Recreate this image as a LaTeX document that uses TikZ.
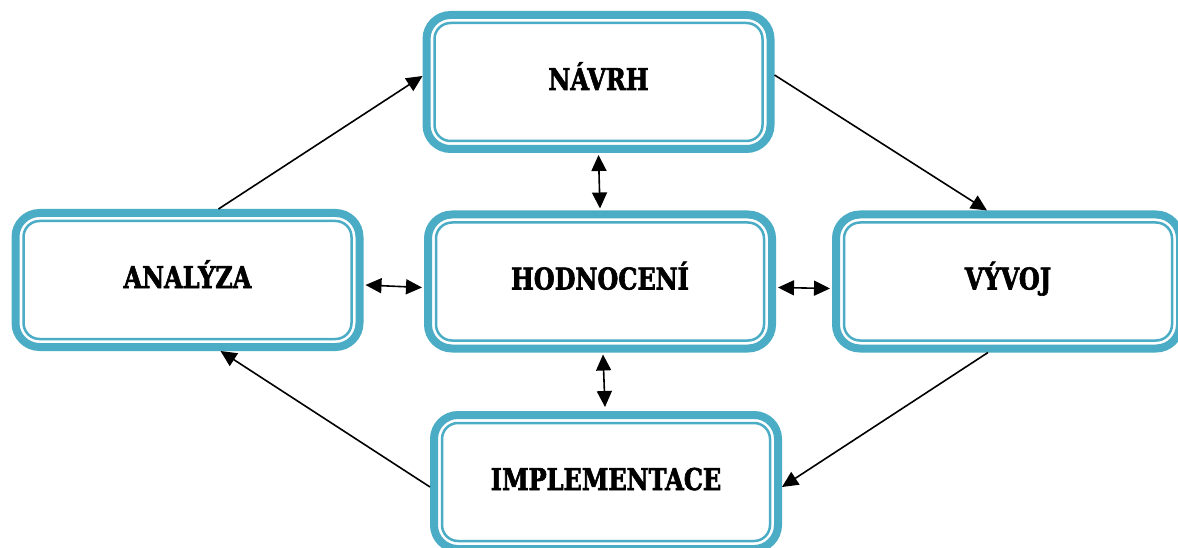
\documentclass[tikz,border=0pt]{standalone}
\usepackage{fontspec}
\newfontfamily\boxfont{DejaVu Serif}[FakeStretch=0.8,FakeBold=2]
\usetikzlibrary{arrows.meta,calc}
\definecolor{tealbox}{HTML}{4BACC6}
\begin{document}
\begin{tikzpicture}[x=1pt,y=-1pt,
  stagebox/.style={draw=tealbox, line width=8pt, rounded corners=24pt,
    minimum width=344pt, minimum height=134pt, fill=white,
    font=\boxfont\bfseries\fontsize{30}{30}\selectfont, inner sep=0pt,
    text height=22pt, text depth=6pt},
  innerline/.style={draw=tealbox, line width=2.5pt, rounded corners=16pt},
  arr/.style={line width=1.6pt, -{Triangle[length=16pt,width=15pt]}},
  darr/.style={line width=1.6pt, {Triangle[length=16pt,width=15pt]}-{Triangle[length=16pt,width=15pt]}}]
\useasboundingbox (0,0) rectangle (1178,548);
\node[stagebox] (n) at (598.5,82) {NÁVRH};
\node[stagebox] (a) at (187.5,280) {ANALÝZA};
\node[stagebox] (h) at (600,281.5) {HODNOCENÍ};
\node[stagebox] (v) at (1008,281.5) {VÝVOJ};
\node[stagebox] (i) at (606,482) {IMPLEMENTACE};
\foreach \b in {n,a,h,v,i}{
  \draw[innerline] ([shift={(12pt,-12pt)}]\b.north west) rectangle ([shift={(-12pt,12pt)}]\b.south east);
}
\draw[arr] ([xshift=31pt]a.north) -- ([yshift=6pt]n.west);
\draw[arr] ([yshift=7pt]n.east) -- ([xshift=-21pt]v.north);
\draw[arr] ([xshift=-20pt]v.south) -- ([yshift=-5pt]i.east);
\draw[arr] ([yshift=-5pt]i.west) -- ([xshift=33pt]a.south);
\draw[darr] ([yshift=-2pt]n.south) -- ([yshift=2pt]h.north);
\draw[darr] ([xshift=2pt,yshift=-5pt]a.east) -- ([xshift=-2pt,yshift=-6pt]h.west);
\draw[darr] ([xshift=2pt,yshift=-6pt]h.east) -- ([xshift=-2pt,yshift=-7pt]v.west);
\draw[darr] ([xshift=3pt,yshift=-2pt]h.south) -- ([xshift=-1pt,yshift=4pt]i.north);
\end{tikzpicture}
\end{document}
